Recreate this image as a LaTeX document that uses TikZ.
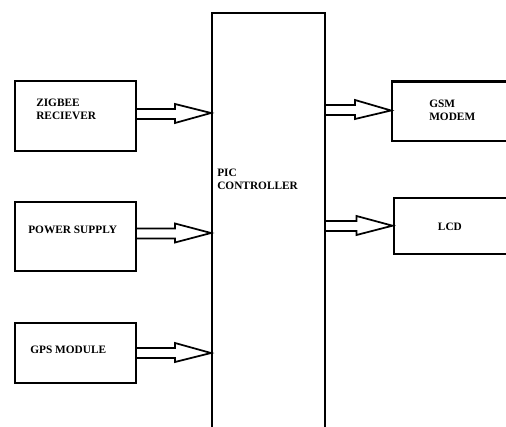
\documentclass[tikz,border=0pt]{standalone}
\usepackage{fontspec}
\setmainfont{Liberation Serif}
\usetikzlibrary{calc}
\tikzset{
  blk/.style={draw=black, line width=1.6pt, inner sep=0pt, anchor=north west},
  lbl/.style={font=\fontsize{8.5}{9.9}\selectfont\bfseries, inner sep=0pt, anchor=base west, align=left},
  arrowline/.style={draw=black, line width=1.3pt, line join=miter}
}
\newcommand\blkarrow[4]{% from, to, y of shaft, tip y
  \path (#1.east|-0,#3) coordinate (ArA) (#2.west|-0,#4) coordinate (ArB);
  \draw[arrowline] ($(ArA)+(0,-5)$) -- ($(ArB|-ArA)+(-36,-5)$) -- ($(ArB|-ArA)+(-36,-10)$)
    -- (ArB) -- ($(ArB|-ArA)+(-36,9)$) -- ($(ArB|-ArA)+(-36,5)$) -- ($(ArA)+(0,5)$);
}
\begin{document}
\begin{tikzpicture}[x=0.75pt,y=-0.75pt]
\useasboundingbox (0,0) rectangle (506,427);
\clip (0,0) rectangle (506,427);
\fill[white] (0,0) rectangle (506,427);
% boxes
\node[blk, minimum width=121*0.75pt, minimum height=70*0.75pt] (zig) at (14,80) {};
\node[blk, minimum width=121*0.75pt, minimum height=69*0.75pt] (pow) at (14,201) {};
\node[blk, minimum width=121*0.75pt, minimum height=60*0.75pt] (gps) at (14,322) {};
\node[blk, minimum width=113*0.75pt, minimum height=430*0.75pt] (pic) at (211,12) {};
\node[blk, minimum width=125*0.75pt, minimum height=59.5*0.75pt] (gsm) at (391,80.5) {};
\node[blk, minimum width=125*0.75pt, minimum height=56*0.75pt] (lcd) at (392.5,196.7) {};
% labels
\node[lbl] (zigt) at (36,119.3) {ZIGBEE\\RECIEVER};
\node[lbl] (powt) at (28,233.3) {POWER SUPPLY};
\node[lbl] (gpst) at (30,353.3) {GPS MODULE};
\node[lbl] (pict) at (217,189.3) {PIC\\CONTROLLER};
\node[lbl] (gsmt) at (429,121) {GSM\\MODEM};
\node[lbl] (lcdt) at (437.7,231) {LCD};
% arrows
\blkarrow{zig}{pic}{114}{113}
\blkarrow{pow}{pic}{233.5}{233}
\blkarrow{gps}{pic}{353}{353}
\blkarrow{pic}{gsm}{110}{110.5}
\blkarrow{pic}{lcd}{226}{225.7}
\end{tikzpicture}
\end{document}
